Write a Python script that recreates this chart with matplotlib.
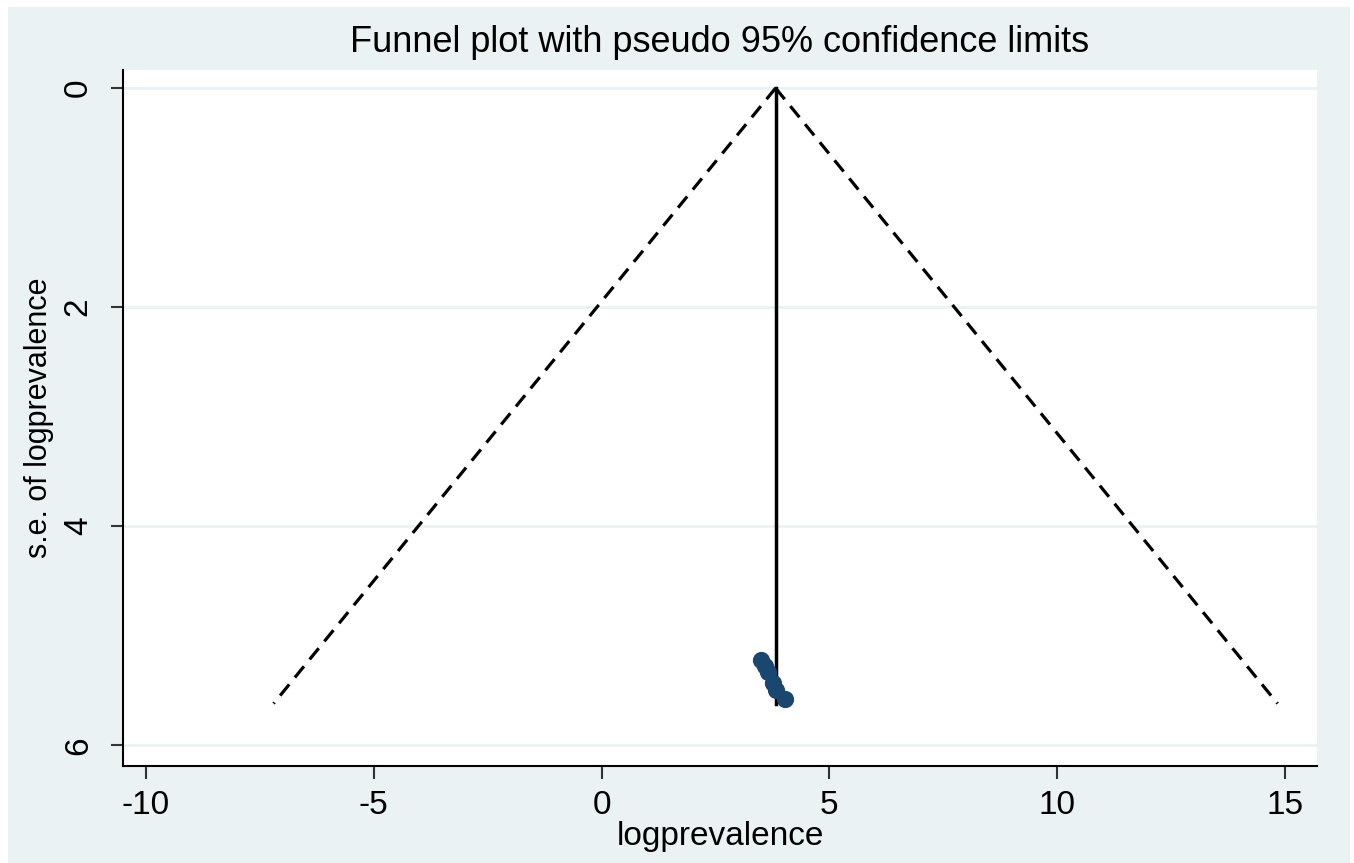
import matplotlib.pyplot as plt
import numpy as np

plt.rcParams['font.family'] = ['Liberation Sans', 'DejaVu Sans']
plt.rcParams['axes.unicode_minus'] = False

# study estimates (logprevalence, its standard error)
effect = [3.50, 3.58, 3.66, 3.76, 3.82, 4.02]
se = [5.22, 5.28, 5.33, 5.43, 5.50, 5.58]

# pooled estimate and funnel depth
pooled = 3.82
se_max = 5.62
z = 1.96

xticks = [-10, -5, 0, 5, 10, 15]
yticks = [0, 2, 4, 6]

bg = '#eaf2f3'

fig = plt.figure(figsize=(13.54, 8.63), dpi=100, facecolor='white')
# light graph region inside a thin white border
fig.patches.append(plt.Rectangle((8 / 1354, 0), (1350 - 8) / 1354, 1 - 7 / 863,
                                 transform=fig.transFigure, facecolor=bg,
                                 edgecolor='none', zorder=-10))

ax = fig.add_axes([123 / 1354, 1 - 766 / 863, (1317 - 123) / 1354, (766 - 70) / 863])
ax.set_facecolor('white')

# horizontal grid
for t in yticks:
    ax.axhline(t, color=bg, lw=2, zorder=0)

# pseudo 95% limits
s = np.array([0, se_max])
ax.plot(pooled - z * s, s, color='black', ls=(0, (4.5, 2.8)), lw=2.3)
ax.plot(pooled + z * s, s, color='black', ls=(0, (4.5, 2.8)), lw=2.3)
ax.plot([pooled, pooled], [0, se_max], color='black', lw=2.5)

ax.scatter(effect, se, s=130, color='#1a476f', zorder=3)

ax.set_xlim(-10.5, 15.7)
ax.set_ylim(6.19, -0.165)
ax.set_xticks(xticks)
ax.set_yticks(yticks)
ax.tick_params(axis='both', labelsize=24, length=9, width=1.5, color='#333333')
ax.tick_params(axis='x', pad=8)
ax.tick_params(axis='y', labelrotation=90, pad=12)
for lab in ax.get_yticklabels():
    lab.set_va('center')

for sp in ['top', 'right']:
    ax.spines[sp].set_visible(False)
for sp in ['left', 'bottom']:
    ax.spines[sp].set_linewidth(1.5)

ax.set_xlabel('logprevalence', fontsize=24, labelpad=0)
ax.set_ylabel('s.e. of logprevalence', fontsize=22, labelpad=6)
ax.set_title('Funnel plot with pseudo 95% confidence limits', fontsize=26, pad=13)

fig.savefig('out.png', dpi=100, facecolor='white')
